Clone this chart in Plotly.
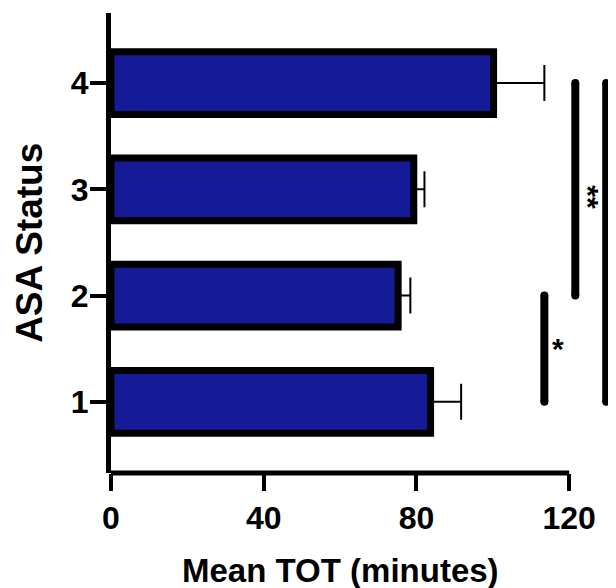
import plotly.graph_objects as go

# ---- data ----
asa_status = [1, 2, 3, 4]
mean_tot = [83.7, 75.2, 79.3, 100.2]
sem_tot = [8.0, 3.2, 2.8, 13.3]
x_ticks = [0, 40, 80, 120]
# significance comparisons: (from category, to category, label, x position in minutes)
sig_from = [1, 2, 1]
sig_to = [2, 4, 4]
sig_label = ["*", "**", ""]
sig_x = [113.5, 121.6, 129.7]
sig_label_offset = [3.6, 3.6, 3.6]

X_MAX = 132
AXIS_END = 120
FONT = "Liberation Sans"
BAR_COLOR = "#151A96"

fig = go.Figure()
fig.add_trace(go.Bar(
    y=asa_status, x=mean_tot, orientation="h", width=0.59,
    marker=dict(color=BAR_COLOR, line=dict(color="black", width=7)),
    error_x=dict(type="data", array=sem_tot, arrayminus=[0] * len(sem_tot),
                 symmetric=False, color="black", thickness=2, width=18),
    showlegend=False,
))

shapes = []
annotations = []
cap_x, cap_y = [], []
for a, b, lab, xx, off in zip(sig_from, sig_to, sig_label, sig_x, sig_label_offset):
    shapes.append(dict(type="line", xref="x", yref="y", x0=xx, x1=xx, y0=a, y1=b,
                       line=dict(color="black", width=8)))
    cap_x += [xx, xx]
    cap_y += [a, b]
    if lab:
        rot = 90 if len(lab) > 1 else 0
        annotations.append(dict(x=xx + off, y=(a + b) / 2, xref="x", yref="y",
                                text=lab, showarrow=False, textangle=rot,
                                font=dict(family=FONT, size=30, color="black", weight="bold"),
                                xanchor="center", yanchor="middle",
                                yshift=-8 if rot else 0))

# rounded ends of the significance lines
fig.add_trace(go.Scatter(x=cap_x, y=cap_y, mode="markers",
                         marker=dict(color="black", size=8, line=dict(width=0)),
                         showlegend=False, hoverinfo="skip"))

# x axis line only from 0 to 120
shapes.append(dict(type="line", xref="paper", yref="paper", x0=0, x1=AXIS_END / X_MAX,
                   y0=0, y1=0, line=dict(color="black", width=5)))

annotations.append(dict(x=AXIS_END / 2, y=-0.213, xref="x", yref="paper",
                        text="Mean TOT (minutes)", showarrow=False,
                        xanchor="center", yanchor="middle",
                        font=dict(family=FONT, size=33, color="black", weight="bold")))
annotations.append(dict(x=-0.163, y=0.5, xref="paper", yref="paper",
                        text="ASA Status", showarrow=False, textangle=-90,
                        xanchor="center", yanchor="middle",
                        font=dict(family=FONT, size=37, color="black", weight="bold")))

fig.update_layout(
    width=608, height=580,
    margin=dict(l=103, r=1, t=5, b=115),
    paper_bgcolor="white", plot_bgcolor="white",
    shapes=shapes, annotations=annotations,
    font=dict(family=FONT, color="black"),
    xaxis=dict(range=[0, X_MAX], tickvals=x_ticks, ticks="outside", ticklen=17,
               tickwidth=4, tickcolor="black", showline=False, showgrid=False,
               zeroline=False,
               tickfont=dict(family=FONT, size=32, color="black", weight="bold")),
    yaxis=dict(range=[0.33, 4.66], tickvals=asa_status, ticks="outside", ticklen=16,
               tickwidth=4, tickcolor="black", showline=True, linewidth=5,
               linecolor="black", showgrid=False, zeroline=False,
               ticklabelstandoff=-5,
               tickfont=dict(family=FONT, size=32, color="black", weight="bold")),
)

fig.write_html("out.html")
